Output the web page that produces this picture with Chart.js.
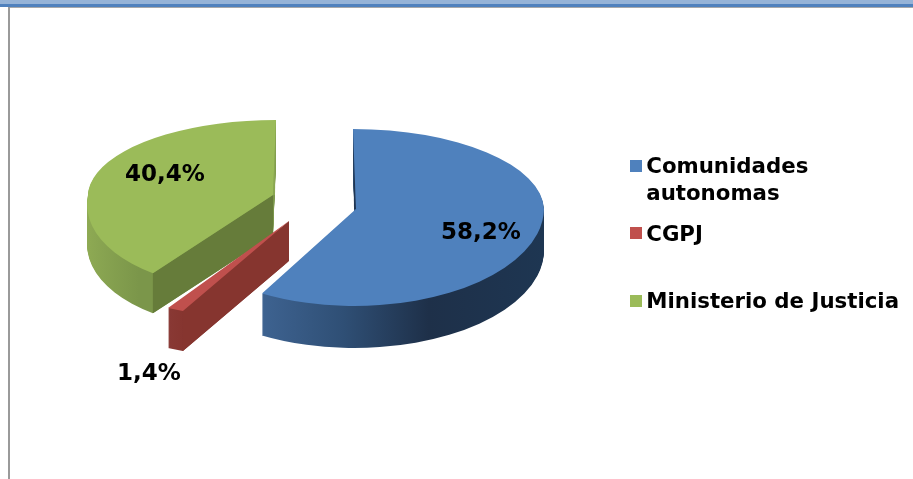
<!DOCTYPE html>
<html>
<head>
<meta charset="utf-8">
<style>html,body{margin:0;padding:0;background:#fff}#wrap{position:relative;width:913px;height:479px}</style>
<script src="https://cdn.jsdelivr.net/npm/chart.js@4"></script>
</head>
<body>
<div id="wrap"><canvas id="c" width="913" height="479"></canvas></div>
<script>
const categories = [["Comunidades", "autonomas"], ["CGPJ", ""], ["Ministerio de Justicia", ""]];
const values = [58.2, 1.4, 40.4];
const explode = [0.231, 0.231, 0.231];
const topColors = ["#4f81bd", "#c0504d", "#9bbb59"];

// Look of the tilted, extruded pie: one view per slice (values stay above)
const FONT = "'DejaVu Sans', Verdana, sans-serif";
const PIE = {ox: 314, oy: 203, rx: 188, ry: 82};
const LEGEND_BOX = 12;
const views = [
  {nudge: [0, 1], top: [188, 3, 0, 80], bot: [188, -1.6, 0, 97], depth: 42,
   wall: [[262, "#3e6391"], [345, "#2f4f75"], [430, "#1e3049"], [544, "#1e3652"]],
   sliver: {edge: "start", w: -2, color: "#1f3552"}},
  {nudge: [-2, 2], top: [204, 0, 0, 97], bot: [204, -6.4, -20, 92], depth: 40,
   wall: [[165, "#8a3a37"], [190, "#86352f"]], cut: "#86352f"},
  {nudge: [0, -2], top: [185, -3, 0, 75], bot: [185, -18.4, 0, 95], depth: 40,
   wall: [[87, "#8fab54"], [153, "#7b964a"]], cut: "#667c3a",
   sliver: {edge: "end", w: 2, color: "#8aa652"}}
];
const labelPos = [[481, 233], [149, 374], [165, 175]];
const percent = v => v.toFixed(1).replace(".", ",") + "%";

function sliceGeometry(chart, arc, i) {
  const v = views[i], R = arc.outerRadius;
  const mid = (arc.startAngle + arc.endAngle) / 2;
  const ax = Math.round(PIE.ox + Math.cos(mid) * explode[i] * PIE.rx + v.nudge[0]);
  const ay = Math.round(PIE.oy + Math.sin(mid) * explode[i] * PIE.ry + v.nudge[1]);
  return {R, lx: arc.x, ly: arc.y, ax, ay};
}
function mapPoint(g, m, angle) {
  const u = Math.cos(angle), w = Math.sin(angle);
  return [g.ax + m[0] * u + m[1] * w, g.ay + m[2] * u + m[3] * w];
}
function drawHalf(ctx, arc, g, m, dy, upper, fill) {
  const W = ctx.canvas.width, H = ctx.canvas.height, split = g.ay + dy;
  const a = m[0] / g.R, b = m[2] / g.R, c = m[1] / g.R, d = m[3] / g.R;
  ctx.save();
  ctx.beginPath();
  if (upper) ctx.rect(0, 0, W, split); else ctx.rect(0, split, W, H - split);
  ctx.clip();
  const e = g.ax - (a * g.lx + c * g.ly), f = split - (b * g.lx + d * g.ly);
  ctx.setTransform(a, b, c, d, e, f);
  const orig = arc.options, o = Object.create(orig);
  let style = fill;
  if (Array.isArray(fill)) {
    const x0 = fill[0][0], x1 = fill[fill.length - 1][0];
    const toLocal = X => g.lx + (X - g.ax) / a;
    style = ctx.createLinearGradient(toLocal(x0), 0, toLocal(x1), 0);
    fill.forEach(s => style.addColorStop((s[0] - x0) / (x1 - x0), s[1]));
  }
  o.backgroundColor = style; o.borderWidth = 0;
  arc.options = o;
  arc.draw(ctx);
  arc.options = orig;
  ctx.restore();
}
function poly(ctx, pts, color) {
  ctx.fillStyle = color;
  ctx.beginPath();
  pts.forEach((p, i) => i ? ctx.lineTo(p[0], p[1]) : ctx.moveTo(p[0], p[1]));
  ctx.closePath();
  ctx.fill();
}
const piePlugin = {
  id: "pie3d",
  beforeDraw(chart) {
    const ctx = chart.ctx;
    ctx.save();
    ctx.fillStyle = "#fff"; ctx.fillRect(0, 0, 913, 479);
    ctx.fillStyle = "#95b3d7"; ctx.fillRect(0, 0, 913, 4);
    ctx.fillStyle = "#4f81bd"; ctx.fillRect(0, 4, 913, 3);
    ctx.fillStyle = "#a8a8a8"; ctx.fillRect(8, 7, 905, 1);
    ctx.fillStyle = "#9a9a9a"; ctx.fillRect(8, 7, 2, 472);
    ctx.restore();
  },
  beforeDatasetDraw() { return false; },
  afterDatasetsDraw(chart) {
    const ctx = chart.ctx, arcs = chart.getDatasetMeta(0).data;
    [2, 1, 0].forEach(i => {
      const arc = arcs[i], v = views[i], g = sliceGeometry(chart, arc, i);
      for (let dy = v.depth; dy >= 1; dy--) {
        drawHalf(ctx, arc, g, v.top, dy, true, v.wall);
        drawHalf(ctx, arc, g, v.bot, dy, false, v.wall);
      }
      if (v.cut) {
        const p = mapPoint(g, v.bot, arc.startAngle);
        poly(ctx, [[g.ax, g.ay], p, [p[0], p[1] + v.depth], [g.ax, g.ay + v.depth]], v.cut);
      }
      if (v.sliver) {
        const ang = v.sliver.edge === "start" ? arc.startAngle : arc.endAngle;
        const p = mapPoint(g, v.top, ang);
        poly(ctx, [[g.ax, g.ay], p, [g.ax + v.sliver.w, g.ay]], v.sliver.color);
      }
      drawHalf(ctx, arc, g, v.top, 0, true, topColors[i]);
      drawHalf(ctx, arc, g, v.bot, 0, false, topColors[i]);
    });
    ctx.save();
    ctx.font = "bold 23px " + FONT;
    ctx.fillStyle = "#000";
    ctx.textAlign = "center";
    ctx.textBaseline = "middle";
    values.forEach((val, i) => ctx.fillText(percent(val), labelPos[i][0], labelPos[i][1]));
    ctx.restore();
  },
  afterDraw(chart) {
    // swatches sit closer to their text than the legend's own layout allows
    const ctx = chart.ctx, lg = chart.legend;
    ctx.save();
    lg.legendHitBoxes.forEach((h, i) => {
      ctx.fillStyle = topColors[i];
      ctx.fillRect(Math.round(h.left) + 1, Math.round(h.top) + 3, LEGEND_BOX, LEGEND_BOX);
    });
    ctx.restore();
  }
};
new Chart(document.getElementById("c"), {
  type: "pie",
  data: {
    labels: categories,
    datasets: [{data: values, backgroundColor: topColors, borderWidth: 0}]
  },
  options: {
    responsive: false,
    animation: false,
    events: [],
    layout: {padding: {top: 24, right: 4}},
    plugins: {
      tooltip: {enabled: false},
      legend: {
        position: "right",
        align: "center",
        labels: {
          color: "#000",
          boxWidth: 6.4,
          boxHeight: 7,
          padding: 13.5,
          font: {family: FONT, weight: "bold", size: 21.3, lineHeight: 1.268},
          generateLabels(chart) {
            return Chart.overrides.pie.plugins.legend.labels.generateLabels(chart)
              .map(l => Object.assign(l, {fillStyle: "rgba(0,0,0,0)", strokeStyle: "rgba(0,0,0,0)", lineWidth: 0}));
          }
        }
      }
    }
  },
  plugins: [piePlugin]
});
</script>
</body>
</html>
